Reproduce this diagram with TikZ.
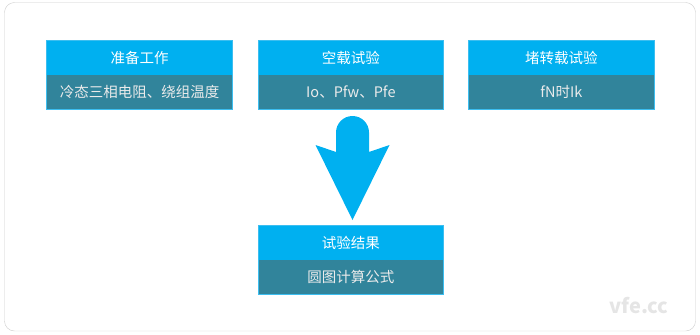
\documentclass[tikz,border=0pt]{standalone}
\usepackage{fontspec}
\setmainfont{Noto Sans CJK SC}
\usepackage{xcolor}
\usepackage{tikz}
\usetikzlibrary{positioning,calc}
\definecolor{headblue}{RGB}{0,176,240}
\definecolor{bodyteal}{RGB}{49,132,155}
\definecolor{edgeblue}{RGB}{60,190,240}
\definecolor{framegray}{RGB}{205,205,205}

\begin{document}
\begin{tikzpicture}[x=1pt,y=-1pt,
    node distance=0pt,
    head/.style={rectangle,fill=headblue,text=white,inner sep=0pt,
      font=\fontsize{14.5}{16}\selectfont,minimum width=185pt,minimum height=34pt},
    body/.style={head,fill=bodyteal,text=white!92!black},
    edge/.style={draw=edgeblue,line width=0.8pt}]
    \useasboundingbox (0,0) rectangle (700,334);
    \draw[framegray,rounded corners=10pt] (4.5,2.5) rectangle (695.5,331);
    % top row
    \node[head] (prep) at (139.5,58) {准备工作};
    \node[body,below=of prep] (prepd) {冷态三相电阻、绕组温度};
    \node[head,right=26pt of prep] (noload) {空载试验};
    \node[body,below=of noload] (noloadd) {Io、Pfw、Pfe};
    \node[head,right=25pt of noload] (lock) {堵转载试验};
    \node[body,below=of lock] (lockd) {fN时Ik};
    % result
    \node[head,below=116pt of noloadd] (res) {试验结果};
    \node[body,below=of res] (resd) {圆图计算公式};
    \draw[edge] (prep.north west) rectangle (prepd.south east);
    \draw[edge] (noload.north west) rectangle (noloadd.south east);
    \draw[edge] (lock.north west) rectangle (lockd.south east);
    \draw[edge] (res.north west) rectangle (resd.south east);
    % big arrow
    \fill[headblue] (336,152) -- (336,132.5) arc[start angle=180,end angle=360,radius=16.5]
      -- (369,152) -- (389.5,145) -- (352.5,220) -- (315.5,145) -- cycle;
    \node[text=black!10,font=\fontsize{20}{22}\selectfont\bfseries] (mark) at (639,306) {vfe.cc};
  \end{tikzpicture}
\end{document}
